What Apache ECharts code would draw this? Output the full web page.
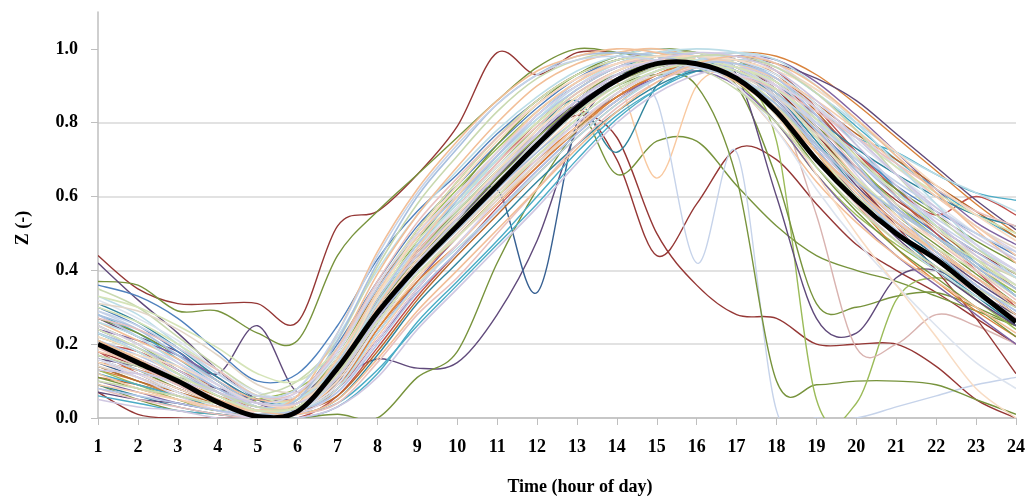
<!DOCTYPE html>
<html>
<head>
<meta charset="utf-8">
<title>Z by hour of day</title>
<script src="https://cdn.jsdelivr.net/npm/echarts@6/dist/echarts.min.js"></script>
<style>
  html, body { margin: 0; padding: 0; background: #fff; }
  #chart { width: 1029px; height: 501px; }
</style>
</head>
<body>
<div id="chart"></div>
<script>
// hour of day (x axis)
const hours = [1,2,3,4,5,6,7,8,9,10,11,12,13,14,15,16,17,18,19,20,21,22,23,24];

// mean daily profile (thick black line)
const meanZ = [.20,.15,.10,.043,.004,.018,.135,.285,.41,.52,.63,.74,.84,.915,.96,.96,.92,.83,.70,.59,.50,.43,.345,.26];

// individual days lying off the main band
const dayA = [.44,.35,.31,.31,.31,.26,.52,.56,.66,.79,.99,.93,.99,.99,.98,.97,.95,.89,.78,.68,.59,.52,.45,.39];
const dayB = [.37,.36,.29,.29,.23,.21,.44,.56,.66,.76,.86,.95,1.0,.99,.97,.95,.92,.85,.72,.60,.52,.45,.38,.31];
const dayC = [.42,.32,.23,.13,.05,.02,.10,.26,.41,.53,.65,.76,.86,.93,.97,.98,.96,.90,.79,.67,.57,.49,.41,.33];
const dayD = [.27,.22,.18,.12,.25,.07,.14,.30,.44,.55,.66,.76,.85,.92,.96,.97,.95,.88,.76,.63,.53,.45,.37,.30];
const dayE = [.24,.19,.13,.07,.02,.03,.10,.16,.135,.15,.28,.48,.78,.92,.96,.97,.94,.86,.74,.62,.52,.44,.36,.28];
const dayF = [.15,.11,.07,.03,.01,.02,.11,.27,.42,.53,.62,.34,.80,.92,.96,.97,.95,.88,.76,.64,.54,.46,.38,.30];
const dayG = [.09,.05,.02,.01,.00,.00,.01,.00,.11,.18,.42,.62,.78,.88,.94,.96,.94,.88,.77,.65,.55,.47,.39,.31];
const dayH = [.18,.14,.09,.04,.01,.02,.11,.27,.41,.52,.63,.74,.82,.76,.50,.36,.28,.27,.20,.20,.20,.14,.05,.00];
const dayI = [.20,.16,.11,.05,.02,.03,.13,.29,.43,.55,.66,.77,.84,.70,.44,.58,.73,.70,.58,.47,.40,.34,.27,.20];
const dayJ = [.14,.10,.06,.03,.01,.02,.10,.26,.40,.52,.63,.74,.84,.66,.75,.75,.63,.52,.44,.40,.37,.33,.29,.25];
const dayK = [.19,.15,.10,.05,.01,.02,.12,.28,.42,.53,.64,.75,.84,.91,.65,.90,.94,.88,.76,.64,.54,.46,.38,.30];
const dayL = [.23,.18,.12,.06,.02,.03,.14,.31,.45,.56,.67,.78,.86,.72,.90,.96,.94,.87,.74,.62,.52,.44,.36,.28];
const dayM = [.12,.09,.06,.03,.01,.02,.09,.25,.40,.52,.64,.75,.85,.93,.86,.42,.72,.02,.00,.00,.03,.06,.09,.11];
const dayN = [.17,.13,.08,.04,.01,.02,.10,.26,.40,.51,.62,.73,.83,.90,.93,.90,.65,.10,.09,.10,.10,.09,.05,.01];
const dayO = [.21,.16,.10,.05,.02,.03,.13,.30,.45,.57,.68,.79,.88,.94,.97,.96,.92,.75,.05,.04,.32,.38,.33,.28];
const dayP = [.25,.20,.13,.07,.02,.03,.14,.31,.45,.56,.67,.78,.87,.93,.96,.96,.90,.65,.31,.30,.33,.34,.30,.25];
const dayQ = [.16,.12,.08,.04,.01,.02,.10,.26,.41,.53,.65,.76,.86,.93,.97,.98,.93,.60,.27,.23,.38,.40,.34,.28];
const dayR = [.20,.15,.09,.04,.01,.02,.11,.27,.41,.52,.63,.74,.84,.91,.95,.96,.93,.85,.55,.19,.20,.28,.25,.20];
const dayS = [.28,.23,.16,.09,.03,.04,.15,.32,.47,.58,.70,.80,.89,.95,.98,.99,.97,.92,.84,.76,.72,.66,.61,.59];
const dayT = [.07,.01,.00,.00,.00,.02,.08,.21,.35,.47,.58,.69,.79,.87,.93,.96,.95,.89,.77,.64,.52,.40,.27,.12];

// days inside the main band
const band01 = [.30,.25,.18,.10,.04,.06,.20,.37,.52,.63,.74,.84,.92,.97,.99,.98,.95,.88,.78,.68,.58,.50,.42,.35];
const band02 = [.12,.08,.05,.02,.00,.02,.08,.22,.36,.47,.58,.69,.79,.88,.94,.97,.96,.90,.78,.65,.54,.45,.36,.28];
const band03 = [.25,.20,.14,.07,.02,.03,.15,.33,.47,.58,.70,.80,.89,.95,.98,.97,.93,.85,.72,.60,.52,.46,.40,.33];
const band04 = [.18,.12,.07,.03,.01,.00,.06,.19,.33,.45,.57,.68,.78,.86,.93,.97,.98,.94,.84,.72,.60,.50,.40,.30];
const band05 = [.33,.28,.20,.12,.06,.08,.22,.40,.55,.67,.78,.87,.94,.98,1.0,.98,.93,.84,.70,.58,.48,.40,.33,.27];
const band06 = [.08,.05,.03,.01,.00,.01,.04,.15,.28,.38,.50,.62,.74,.84,.91,.95,.95,.90,.80,.68,.57,.48,.40,.32];
const band07 = [.22,.18,.12,.06,.02,.04,.17,.32,.45,.55,.66,.76,.85,.92,.96,.96,.91,.80,.66,.55,.47,.40,.32,.24];
const band08 = [.15,.12,.08,.04,.01,.02,.10,.25,.38,.50,.61,.72,.82,.90,.95,.97,.95,.88,.76,.64,.55,.48,.41,.35];
const band09 = [.28,.22,.15,.08,.03,.05,.18,.35,.49,.60,.71,.81,.89,.95,.98,.99,.97,.92,.82,.70,.60,.52,.45,.38];
const band10 = [.10,.07,.04,.02,.00,.03,.09,.23,.37,.49,.60,.71,.80,.87,.92,.94,.90,.80,.66,.54,.44,.36,.28,.20];
const band11 = [.35,.30,.22,.14,.07,.05,.15,.31,.44,.56,.67,.78,.87,.94,.97,.96,.92,.84,.74,.64,.56,.49,.43,.38];
const band12 = [.20,.16,.11,.05,.01,.02,.12,.28,.41,.52,.63,.74,.83,.91,.96,.98,.96,.90,.79,.66,.54,.44,.35,.27];
const band13 = [.06,.04,.02,.01,.00,.00,.03,.12,.26,.37,.48,.60,.72,.82,.89,.94,.96,.93,.85,.74,.62,.52,.42,.33];
const band14 = [.26,.21,.16,.10,.05,.06,.19,.39,.55,.68,.80,.90,.96,.99,1.0,.97,.90,.78,.64,.53,.44,.37,.30,.23];
const band15 = [.17,.13,.09,.05,.02,.03,.11,.27,.40,.51,.62,.73,.83,.90,.95,.97,.96,.91,.81,.70,.61,.54,.47,.40];
const band16 = [.13,.10,.06,.03,.01,.01,.08,.24,.38,.49,.60,.70,.79,.87,.93,.96,.94,.86,.72,.58,.46,.37,.29,.22];
const band17 = [.30,.26,.20,.13,.06,.05,.16,.34,.48,.59,.70,.80,.88,.94,.98,.99,.96,.88,.76,.65,.56,.49,.42,.36];
const band18 = [.24,.19,.13,.07,.02,.02,.13,.30,.44,.55,.66,.77,.86,.93,.97,.98,.95,.87,.74,.62,.52,.45,.38,.31];
const band19 = [.11,.09,.06,.03,.01,.02,.06,.18,.32,.44,.55,.66,.76,.85,.92,.96,.97,.93,.83,.71,.60,.51,.43,.35];
const band20 = [.19,.14,.09,.04,.01,.02,.14,.31,.45,.57,.69,.79,.88,.94,.97,.96,.92,.83,.70,.58,.48,.41,.34,.27];
const band21 = [.32,.27,.21,.13,.07,.06,.17,.33,.46,.57,.68,.78,.86,.92,.96,.98,.97,.93,.85,.75,.66,.58,.50,.43];
const band22 = [.09,.06,.03,.01,.00,.01,.05,.17,.31,.42,.53,.64,.74,.83,.90,.94,.93,.87,.75,.62,.50,.41,.33,.25];
const band23 = [.21,.17,.12,.07,.03,.04,.15,.32,.47,.59,.71,.82,.91,.97,.99,.98,.94,.86,.73,.61,.51,.43,.36,.29];
const band24 = [.14,.11,.07,.03,.01,.02,.11,.26,.39,.50,.61,.71,.80,.88,.93,.95,.93,.87,.77,.67,.58,.51,.44,.38];
const band25 = [.27,.23,.17,.10,.04,.04,.14,.30,.43,.54,.65,.75,.84,.91,.95,.96,.92,.82,.68,.56,.46,.38,.30,.22];
const band26 = [.16,.11,.06,.02,.00,.01,.07,.21,.35,.47,.59,.70,.80,.88,.94,.98,.99,.96,.88,.78,.68,.60,.52,.45];
const band27 = [.23,.19,.14,.08,.03,.03,.12,.27,.40,.51,.62,.72,.81,.89,.94,.96,.94,.88,.78,.67,.57,.49,.41,.33];
const band28 = [.07,.05,.04,.02,.01,.03,.10,.25,.40,.52,.64,.75,.85,.92,.96,.97,.94,.86,.73,.60,.49,.40,.32,.25];
const band29 = [.29,.24,.17,.09,.03,.02,.11,.28,.42,.54,.66,.77,.86,.93,.97,.98,.95,.89,.80,.70,.61,.53,.46,.40];
const band30 = [.18,.15,.10,.05,.02,.04,.16,.34,.49,.61,.72,.83,.91,.96,.98,.97,.92,.84,.72,.61,.52,.45,.38,.31];
const band31 = [.36,.33,.27,.18,.10,.12,.25,.43,.56,.66,.77,.86,.93,.97,.98,.96,.95,.90,.82,.72,.63,.56,.50,.44];
const band32 = [.05,.03,.02,.00,.00,.00,.03,.11,.24,.35,.46,.57,.69,.80,.88,.93,.95,.92,.84,.74,.63,.53,.44,.36];
const band33 = [.26,.22,.15,.09,.04,.05,.14,.31,.46,.58,.70,.81,.90,.96,.99,1.0,.99,.95,.88,.80,.72,.66,.61,.56];
const band34 = [.20,.18,.13,.08,.03,.04,.13,.30,.45,.57,.69,.80,.89,.95,.98,.98,.96,.91,.82,.72,.62,.55,.60,.55];
const band35 = [.16,.12,.07,.03,.01,.02,.09,.25,.40,.52,.64,.75,.84,.91,.96,.96,.90,.78,.62,.48,.36,.25,.15,.08];
const band36 = [.22,.18,.11,.05,.02,.03,.12,.29,.43,.55,.67,.78,.87,.94,.97,.97,.92,.82,.66,.50,.36,.22,.08,.00];
const band37 = [.13,.09,.05,.02,.05,.08,.17,.35,.50,.62,.73,.83,.91,.96,.99,.99,.97,.91,.81,.69,.58,.49,.41,.34];
const band38 = [.31,.29,.24,.17,.09,.07,.12,.26,.39,.49,.59,.69,.78,.86,.92,.96,.97,.95,.89,.81,.71,.61,.52,.46];
const band39 = [.10,.08,.06,.04,.06,.10,.21,.41,.58,.71,.83,.92,.97,.99,.98,.95,.89,.80,.68,.57,.48,.41,.35,.30];
const band40 = [.24,.21,.17,.11,.04,.02,.08,.21,.34,.45,.56,.67,.77,.86,.92,.96,.98,.97,.91,.82,.72,.62,.53,.47];
const band41 = [.28,.24,.17,.10,.04,.05,.21,.42,.60,.73,.85,.93,.98,.99,.98,.96,.92,.85,.74,.64,.56,.49,.42,.35];
const band42 = [.20,.15,.10,.05,.02,.06,.23,.45,.62,.75,.86,.94,.98,1.0,.99,.96,.91,.83,.72,.62,.53,.45,.38,.31];
const band43 = [.12,.09,.06,.03,.01,.01,.04,.13,.25,.36,.47,.58,.70,.81,.89,.95,.97,.95,.88,.79,.70,.62,.55,.49];
const band44 = [.09,.07,.05,.03,.02,.04,.12,.30,.46,.60,.72,.83,.91,.96,.98,.98,.96,.92,.86,.78,.69,.60,.52,.44];
const band45 = [.33,.30,.25,.19,.12,.10,.19,.36,.51,.64,.76,.86,.93,.97,.98,.97,.95,.91,.84,.76,.68,.61,.55,.50];
const band46 = [.15,.13,.10,.06,.03,.03,.09,.24,.37,.47,.58,.68,.78,.87,.93,.97,.99,.98,.93,.85,.76,.67,.58,.50];
const band47 = [.23,.18,.12,.06,.02,.02,.08,.23,.36,.46,.56,.66,.76,.85,.92,.97,.99,.97,.90,.80,.69,.58,.47,.38];
const band48 = [.27,.24,.19,.13,.06,.07,.19,.37,.53,.65,.76,.85,.92,.96,.97,.96,.93,.89,.83,.76,.69,.62,.56,.52];
const band49 = [.14,.10,.07,.04,.02,.05,.16,.35,.51,.64,.76,.86,.93,.97,.99,.99,.97,.92,.85,.77,.70,.63,.56,.49];
const band50 = [.19,.17,.14,.09,.04,.04,.14,.33,.50,.63,.75,.85,.92,.96,.98,.98,.97,.94,.89,.81,.72,.63,.55,.48];
const band51 = [.08,.06,.04,.02,.01,.02,.07,.20,.34,.45,.56,.67,.77,.86,.92,.96,.96,.92,.82,.69,.56,.45,.36,.29];
const band52 = [.31,.26,.19,.11,.05,.04,.13,.31,.46,.59,.71,.82,.90,.95,.97,.97,.94,.89,.81,.73,.66,.60,.55,.52];
const band53 = [.17,.14,.11,.07,.03,.03,.12,.28,.42,.53,.64,.74,.83,.90,.95,.98,.98,.95,.88,.78,.66,.55,.46,.39];
const band54 = [.25,.20,.15,.09,.04,.07,.18,.36,.50,.61,.72,.82,.90,.95,.96,.95,.93,.90,.84,.76,.66,.56,.47,.40];
const band55 = [.11,.08,.05,.02,.01,.03,.13,.32,.48,.61,.74,.85,.93,.98,1.0,.99,.95,.88,.79,.70,.62,.55,.48,.42];
const band56 = [.21,.16,.10,.05,.02,.01,.05,.16,.29,.40,.51,.62,.73,.83,.91,.96,.98,.96,.90,.81,.71,.61,.51,.42];
const band57 = [.29,.25,.19,.12,.06,.08,.23,.44,.61,.74,.85,.93,.97,.98,.97,.95,.92,.87,.80,.72,.64,.57,.50,.45];
const band58 = [.16,.14,.11,.08,.05,.06,.15,.31,.44,.55,.66,.77,.86,.92,.96,.98,.98,.96,.92,.86,.77,.68,.59,.51];
const band59 = [.24,.19,.12,.06,.02,.03,.11,.26,.39,.49,.60,.71,.81,.89,.94,.96,.94,.89,.81,.71,.61,.52,.43,.36];
const band60 = [.13,.12,.10,.07,.04,.04,.11,.27,.42,.54,.66,.77,.86,.93,.97,.99,.98,.94,.86,.76,.66,.57,.49,.43];

// y axis tick labels
const yTicks = [0, 0.2, 0.4, 0.6, 0.8, 1.0];

const offDays = [
  [dayA, '#953735'], [dayB, '#77933C'], [dayC, '#604A7B'], [dayD, '#604A7B'],
  [dayE, '#604A7B'], [dayF, '#376092'], [dayG, '#77933C'], [dayH, '#953735'],
  [dayI, '#953735'], [dayJ, '#77933C'], [dayK, '#F9C9A0'], [dayL, '#31859C'],
  [dayM, '#C6D3EA'], [dayN, '#77933C'], [dayO, '#9BBB59'], [dayP, '#77933C'],
  [dayQ, '#604A7B'], [dayR, '#D9B3B0'], [dayS, '#4BACC6'], [dayT, '#953735']
];

const bandDays = [band01, band02, band03, band04, band05, band06, band07, band08, band09, band10,
  band11, band12, band13, band14, band15, band16, band17, band18, band19, band20,
  band21, band22, band23, band24, band25, band26, band27, band28, band29, band30,
  band31, band32, band33, band34, band35, band36, band37, band38, band39, band40,
  band41, band42, band43, band44, band45, band46, band47, band48, band49, band50,
  band51, band52, band53, band54, band55, band56, band57, band58, band59, band60];

// stronger colours go underneath, the pale ones on top (like the original)
const strongColors = ['#4F81BD', '#C0504D', '#9BBB59', '#8064A2', '#4BACC6', '#D9823B',
  '#B8692E', '#31859C', '#77933C', '#5F497A'];
const paleColors = ['#C6D3E9', '#F5CCAE', '#D5E4B8', '#CFC7E1', '#BCDDE7', '#E9C1BF',
  '#DDE4EF', '#F8DCC4', '#B4C7E7', '#E2D6C8', '#C9D9B0', '#D9D2E9', '#A9C0DF', '#F2BF98'];

const curves = [];
offDays.forEach(d => curves.push({ values: d[0], color: d[1], width: 1.4 }));
bandDays.forEach((d, i) => {
  if (i % 3 === 0) curves.push({ values: d, color: strongColors[(i / 3) % strongColors.length], width: 1.4 });
});
bandDays.forEach((d, i) => {
  if (i % 3 !== 0) curves.push({ values: d, color: paleColors[i % paleColors.length], width: 1.6 });
});
curves.push({ values: meanZ, color: '#000', width: 5 });

// Excel-like smoothed path through the points (Catmull-Rom as cubic Bezier)
function smoothPath(pts) {
  let d = 'M' + pts[0][0] + ' ' + pts[0][1];
  const n = pts.length;
  for (let i = 0; i < n - 1; i++) {
    const p0 = pts[Math.max(i - 1, 0)];
    const p1 = pts[i];
    const p2 = pts[i + 1];
    const p3 = pts[Math.min(i + 2, n - 1)];
    const c1x = p1[0] + (p2[0] - p0[0]) / 6;
    const c1y = p1[1] + (p2[1] - p0[1]) / 6;
    const c2x = p2[0] - (p3[0] - p1[0]) / 6;
    const c2y = p2[1] - (p3[1] - p1[1]) / 6;
    d += ' C' + c1x + ' ' + c1y + ' ' + c2x + ' ' + c2y + ' ' + p2[0] + ' ' + p2[1];
  }
  return d;
}

function renderCurve(params, api) {
  const c = curves[api.value(2)];
  const pts = hours.map((h, i) => api.coord([h, c.values[i]]));
  return {
    type: 'path',
    shape: { pathData: smoothPath(pts) },
    style: { fill: 'none', stroke: c.color, lineWidth: c.width, lineJoin: 'round' }
  };
}

const labelFont = { fontFamily: 'Liberation Serif', fontWeight: 'bold', fontSize: 18, color: '#000' };

let chart = echarts.init(document.getElementById('chart'));
let option = {
  animation: false,
  grid: { left: 98, right: 13, top: 12, bottom: 83 },
  xAxis: {
    type: 'value',
    min: 1,
    max: 24,
    interval: 1,
    name: 'Time (hour of day)',
    nameLocation: 'middle',
    nameGap: 60,
    nameTextStyle: Object.assign({}, labelFont, { padding: [0, 0, 0, 46] }),
    axisLine: { lineStyle: { color: '#bfbfbf', width: 1.5 } },
    axisTick: { show: true, length: 7, lineStyle: { color: '#bfbfbf' } },
    axisLabel: Object.assign({}, labelFont, { margin: 20 }),
    splitLine: { show: false }
  },
  yAxis: {
    type: 'value',
    min: 0,
    max: 1.1,
    interval: 0.2,
    name: 'Z (-)',
    nameLocation: 'middle',
    nameGap: 66,
    nameTextStyle: Object.assign({}, labelFont, { padding: [0, 26, 0, 0] }),
    axisLine: { show: true, lineStyle: { color: '#bfbfbf', width: 1.5 } },
    axisTick: { show: true, length: 7, customValues: yTicks, lineStyle: { color: '#bfbfbf' } },
    axisLabel: Object.assign({}, labelFont, {
      margin: 20,
      customValues: yTicks,
      formatter: v => v.toFixed(1)
    }),
    splitLine: { show: true, showMaxLine: false, lineStyle: { color: '#d9d9d9', width: 1.5 } }
  },
  series: [{
    type: 'custom',
    coordinateSystem: 'cartesian2d',
    clip: true,
    silent: true,
    encode: { x: 0, y: 1 },
    data: curves.map((c, k) => [hours[0], c.values[0], k]),
    renderItem: renderCurve
  }]
};

option && chart.setOption(option);
</script>
</body>
</html>
